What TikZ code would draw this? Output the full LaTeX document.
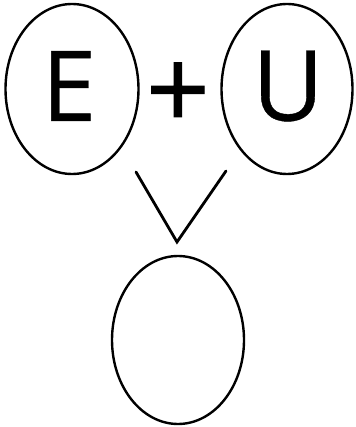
\documentclass[tikz,border=0pt]{standalone}
\usepackage{fontspec}
\setmainfont{Open Sans}
\newfontfamily\plusfont[FakeBold=0.9]{Open Sans}
\newfontfamily\letterfont[FakeBold=0.4]{Open Sans}
\usetikzlibrary{shapes.geometric}
\begin{document}
\begin{tikzpicture}[x=1pt,y=-1pt,
  oval/.style={draw=black,line width=2.4pt,ellipse,inner sep=0pt},
  letter/.style={font=\fontsize{98}{98}\letterfont},
  vline/.style={line width=2.8pt,line cap=round}]
\useasboundingbox[fill=white] (0,0) rectangle (355,427);
\node[oval,minimum width=133pt,minimum height=170pt] (e) at (72,89) {};
\node[letter] (et) at (69,86) {E};
\node[oval,minimum width=131pt,minimum height=170pt] (u) at (287,89) {};
\node[letter] (ut) at (288,86) {U};
\node[oval,minimum width=132pt,minimum height=168pt] (res) at (178,340) {};
\node[font=\fontsize{112}{112}\plusfont] (plus) at (178,96) {+};
\coordinate (vl) at (136,172);
\coordinate (vb) at (177,242);
\coordinate (vr) at (226,171);
\draw[vline] (vl) -- (vb) -- (vr);
\end{tikzpicture}
\end{document}
